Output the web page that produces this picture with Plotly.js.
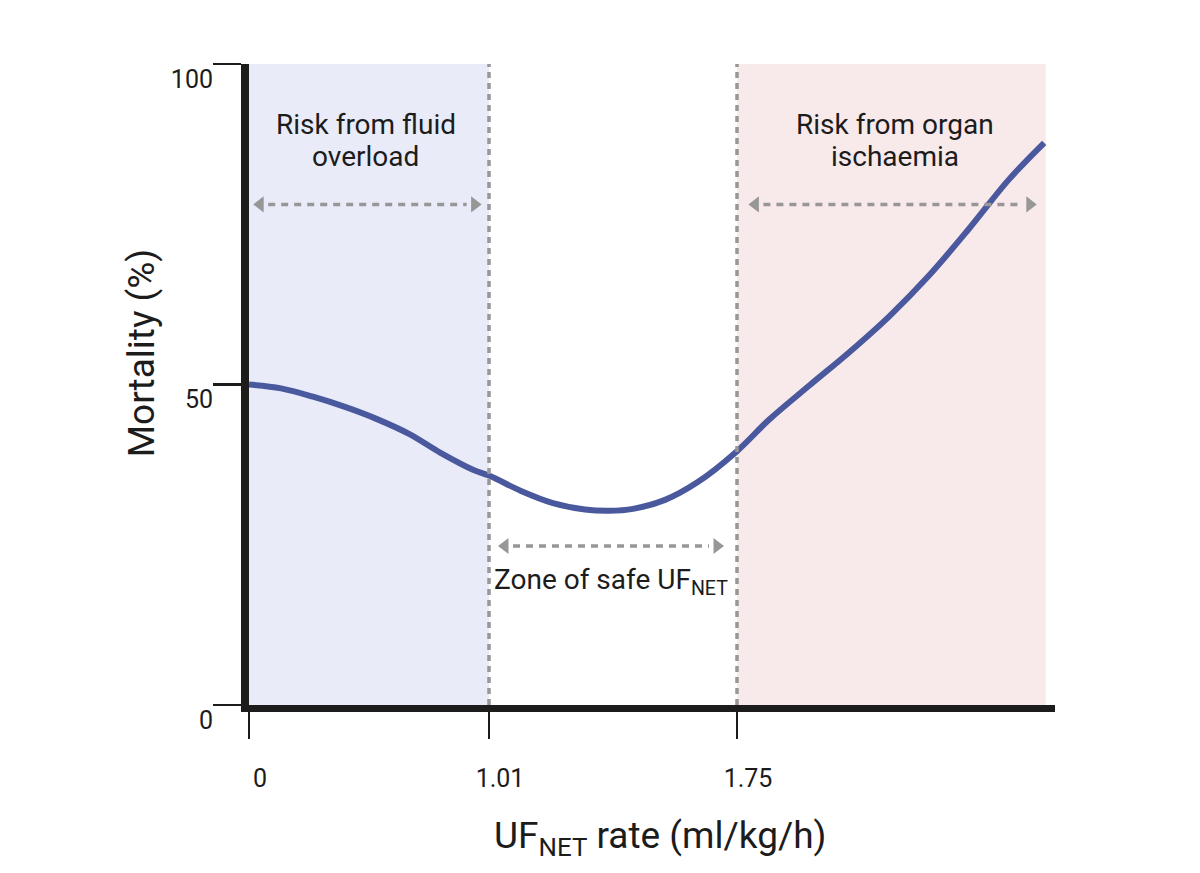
<!DOCTYPE html>
<html>
<head>
<meta charset="utf-8">
<script src="https://cdn.plot.ly/plotly-3.0.1.min.js"></script>
<style>
  html, body { margin: 0; padding: 0; background: #ffffff; }
  #chart { width: 1200px; height: 873px; }
</style>
</head>
<body>
<div id="chart"></div>
<script>
// Schematic position along the UF_NET axis (not to scale) and the rates shown at the ticks
const tickPos = [0, 30, 61];
const rateLabels = ['0', '1.01', '1.75'];
const mortalityTicks = [0, 50, 100];

// Zone edges on the schematic axis: fluid-overload risk | safe zone | ischaemia risk
const zoneEdges = [0, 30, 61, 99.6];

// Mortality (%) curve across UF_NET rate
const curveX = [0, 4, 8, 12, 16, 20, 24, 28, 30, 34, 38, 42, 45, 48, 52, 56, 61, 65, 70, 75, 80, 85, 90, 95, 99.4];
const mortality = [50, 49.4, 48.1, 46.5, 44.6, 42.3, 39.3, 36.7, 35.8, 33.4, 31.5, 30.5, 30.3, 30.6, 32.0, 34.7, 39.6, 44.5, 49.8, 55.0, 60.6, 67.0, 74.3, 82.0, 87.7];

// Double-headed range arrows: [start, end, level]
const arrowFluid = [0.4, 29.2, 78.1];
const arrowSafe = [31.0, 59.5, 24.8];
const arrowOrgan = [62.3, 98.6, 78.1];

// Zone captions, one entry per line
const fluidCaption = ['Risk from fluid', 'overload'];
const organCaption = ['Risk from organ', 'ischaemia'];
const safeCaption = 'Zone of safe UF<sub>NET</sub>';

const FONT = 'Roboto, "Open Sans", Arial, sans-serif';
const INK = '#1c1c1c';
const DASH_GREY = '#979797';
const HEAD = 1.0; // arrowhead centre offset from tip, axis units

const shapes = [
  { type: 'rect', xref: 'x', yref: 'y', x0: zoneEdges[0], x1: zoneEdges[1], y0: 0, y1: 100,
    fillcolor: '#e9ebf8', line: { width: 0 }, layer: 'below' },
  { type: 'rect', xref: 'x', yref: 'y', x0: zoneEdges[2], x1: zoneEdges[3], y0: 0, y1: 100,
    fillcolor: '#f8e9eb', line: { width: 0 }, layer: 'below' },
  { type: 'line', xref: 'x', yref: 'y', x0: zoneEdges[1], x1: zoneEdges[1], y0: 0, y1: 100,
    line: { color: DASH_GREY, width: 3.5, dash: '6px,5px' } },
  { type: 'line', xref: 'x', yref: 'y', x0: zoneEdges[2], x1: zoneEdges[2], y0: 0, y1: 100,
    line: { color: DASH_GREY, width: 3.5, dash: '6px,5px' } }
];

const arrows = [arrowFluid, arrowSafe, arrowOrgan];
arrows.forEach(a => {
  shapes.push({ type: 'line', xref: 'x', yref: 'y', x0: a[0] + 2 * HEAD, x1: a[1] - 2 * HEAD, y0: a[2], y1: a[2],
    line: { color: DASH_GREY, width: 3.5, dash: '7px,6px' } });
});

const headTrace = {
  type: 'scatter', mode: 'markers', hoverinfo: 'skip', showlegend: false,
  x: arrows.flatMap(a => [a[0] + HEAD, a[1] - HEAD]),
  y: arrows.flatMap(a => [a[2], a[2]]),
  marker: {
    symbol: arrows.flatMap(() => ['triangle-left', 'triangle-right']),
    size: 14, color: DASH_GREY, line: { width: 0 }
  }
};

const curveTrace = {
  type: 'scatter', mode: 'lines', showlegend: false,
  x: curveX, y: mortality,
  line: { color: '#4a599e', width: 6, shape: 'spline', smoothing: 1 }
};

const textFont = { family: FONT, size: 28, color: INK };
const caption = (x, y, text) => ({ xref: 'x', yref: 'y', x: x, y: y, text: text, showarrow: false,
  font: textFont, xanchor: 'center', yanchor: 'middle' });

const annotations = [
  caption(14.6, 90.5, fluidCaption[0]),
  caption(14.6, 85.5, fluidCaption[1]),
  caption(80.8, 90.5, organCaption[0]),
  caption(80.8, 85.5, organCaption[1]),
  caption(45.3, 19.3, safeCaption),
  { xref: 'paper', yref: 'paper', x: -0.133, y: 0.55, xanchor: 'center', yanchor: 'middle',
    text: 'Mortality (%)', textangle: -90, showarrow: false,
    font: { family: FONT, size: 37, color: INK } },
  { xref: 'paper', yref: 'paper', x: 0.51, y: -0.208, xanchor: 'center', yanchor: 'middle',
    text: 'UF<sub>NET</sub> rate (ml/kg/h)', showarrow: false,
    font: { family: FONT, size: 37, color: INK } }
];

const layout = {
  width: 1200, height: 873,
  margin: { l: 249, r: 145, t: 64, b: 168 },
  paper_bgcolor: '#ffffff', plot_bgcolor: '#ffffff',
  showlegend: false,
  xaxis: {
    range: [0, 100.75], showgrid: false, zeroline: false,
    showline: true, linewidth: 7, linecolor: INK,
    tickmode: 'array', tickvals: tickPos, ticktext: rateLabels,
    ticks: 'outside', ticklen: 27, tickwidth: 2.5, tickcolor: INK,
    tickfont: { family: FONT, size: 25, color: INK },
    ticklabelshift: 11, ticklabelstandoff: 18
  },
  yaxis: {
    range: [0, 100], showgrid: false, zeroline: false,
    showline: true, linewidth: 8, linecolor: INK,
    tickmode: 'array', tickvals: mortalityTicks, ticktext: mortalityTicks.map(String),
    ticks: 'outside', ticklen: 28, tickwidth: 2.5, tickcolor: INK,
    tickfont: { family: FONT, size: 25, color: INK },
    ticklabelshift: 15, ticklabelstandoff: -5
  },
  shapes: shapes,
  annotations: annotations
};

Plotly.newPlot('chart', [curveTrace, headTrace], layout, { displayModeBar: false, staticPlot: true });
</script>
</body>
</html>
